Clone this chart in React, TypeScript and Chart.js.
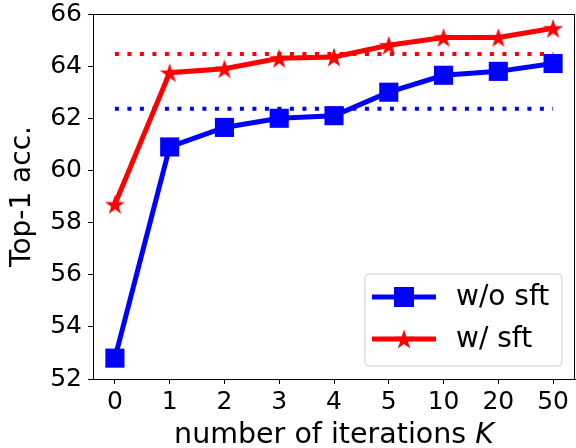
import React, { useEffect, useRef } from 'react';
import { Chart, registerables } from 'chart.js';

Chart.register(...registerables);

const categories = ['0', '1', '2', '3', '4', '5', '10', '20', '50'];
const woSft = [52.8, 60.9, 61.65, 62.0, 62.1, 63.0, 63.65, 63.8, 64.1];
const wSft = [58.7, 63.75, 63.9, 64.3, 64.35, 64.8, 65.1, 65.1, 65.45];
const woSftBaseline = 62.37;
const wSftBaseline = 64.47;
const yMin = 52;
const yMax = 66;
const yStep = 2;

const FONT = "'DejaVu Sans', sans-serif";
const FS = 25;
const LFS = 28;

function makeStar(size: number, color: string): HTMLCanvasElement {
  const c = document.createElement('canvas');
  c.width = size;
  c.height = size;
  const ctx = c.getContext('2d')!;
  const cx = size / 2;
  const cy = size / 2 + 1;
  const R = size / 2 - 0.5;
  const r = R * 0.382;
  ctx.beginPath();
  for (let i = 0; i < 10; i++) {
    const ang = -Math.PI / 2 + (i * Math.PI) / 5;
    const rad = i % 2 === 0 ? R : r;
    const x = cx + rad * Math.cos(ang);
    const y = cy + rad * Math.sin(ang);
    if (i === 0) ctx.moveTo(x, y);
    else ctx.lineTo(x, y);
  }
  ctx.closePath();
  ctx.fillStyle = color;
  ctx.fill();
  return c;
}

export default function App() {
  const ref = useRef<HTMLCanvasElement | null>(null);

  useEffect(() => {
    const canvas = ref.current;
    if (!canvas) return;
    const star = makeStar(22, '#ff0000');

    const decor = {
      id: 'decor',
      afterDraw(chart: any) {
        const { ctx, chartArea } = chart;
        const { left, right, top, bottom } = chartArea;
        ctx.save();
        // frame
        ctx.strokeStyle = '#000';
        ctx.lineWidth = 1;
        ctx.strokeRect(left + 0.5, top + 0.5, right - left - 1, bottom - top);

        // legend
        const bx = right - 210;
        const by = bottom - 105;
        const bw = 197;
        const bh = 92;
        const rr = 4;
        ctx.beginPath();
        ctx.moveTo(bx + rr, by);
        ctx.arcTo(bx + bw, by, bx + bw, by + bh, rr);
        ctx.arcTo(bx + bw, by + bh, bx, by + bh, rr);
        ctx.arcTo(bx, by + bh, bx, by, rr);
        ctx.arcTo(bx, by, bx + bw, by, rr);
        ctx.closePath();
        ctx.fillStyle = 'rgba(255,255,255,0.8)';
        ctx.fill();
        ctx.strokeStyle = '#cccccc';
        ctx.lineWidth = 1;
        ctx.stroke();

        const entries = [
          { label: 'w/o sft', color: '#0000ff', marker: 'sq' },
          { label: 'w/ sft', color: '#ff0000', marker: 'star' },
        ];
        entries.forEach((e, i) => {
          const y = by + 23 + i * 42;
          ctx.strokeStyle = e.color;
          ctx.lineWidth = 5;
          ctx.beginPath();
          ctx.moveTo(bx + 7, y);
          ctx.lineTo(bx + 71, y);
          ctx.stroke();
          const mx = bx + 39;
          if (e.marker === 'sq') {
            ctx.fillStyle = e.color;
            ctx.fillRect(mx - 10, y - 10, 20, 20);
          } else {
            ctx.drawImage(star, mx - 11, y - 11, 22, 22);
          }
          ctx.fillStyle = '#000';
          ctx.font = `${LFS}px ${FONT}`;
          ctx.textAlign = 'left';
          ctx.textBaseline = 'middle';
          ctx.fillText(e.label, bx + 91, y + 1);
        });

        // x title with italic K
        ctx.fillStyle = '#000';
        ctx.textBaseline = 'alphabetic';
        const part1 = 'number of iterations ';
        const part2 = 'K';
        const xfs = 28.5;
        ctx.font = `${xfs}px ${FONT}`;
        const w1 = ctx.measureText(part1).width;
        ctx.font = `italic ${xfs}px ${FONT}`;
        const w2 = ctx.measureText(part2).width;
        const cx = (left + right) / 2;
        const sx = cx - (w1 + w2) / 2;
        const ty = 443;
        ctx.font = `${xfs}px ${FONT}`;
        ctx.textAlign = 'left';
        ctx.fillText(part1, sx, ty);
        ctx.font = `italic ${xfs}px ${FONT}`;
        ctx.fillText(part2, sx + w1, ty);

        // y title
        ctx.save();
        ctx.translate(23, (top + bottom) / 2);
        ctx.rotate(-Math.PI / 2);
        ctx.font = `${LFS}px ${FONT}`;
        ctx.textAlign = 'center';
        ctx.textBaseline = 'middle';
        ctx.fillText('Top-1 acc.', 0, 0);
        ctx.restore();

        ctx.restore();
      },
    };

    const chart = new Chart(canvas, {
      type: 'line',
      data: {
        datasets: [
          {
            label: 'w/o sft',
            data: woSft.map((v, i) => ({ x: i, y: v })),
            borderColor: '#0000ff',
            backgroundColor: '#0000ff',
            borderWidth: 5,
            pointStyle: 'rect',
            pointRadius: 13.5,
            pointBorderWidth: 0,
            pointHoverRadius: 13.5,
            order: 2,
          },
          {
            label: 'w/ sft',
            data: wSft.map((v, i) => ({ x: i, y: v })),
            borderColor: '#ff0000',
            backgroundColor: '#ff0000',
            borderWidth: 5,
            pointStyle: star as any,
            pointRadius: 11,
            pointBorderWidth: 0,
            order: 1,
          },
          {
            label: 'w/o sft baseline',
            data: [
              { x: 0, y: woSftBaseline },
              { x: categories.length - 1, y: woSftBaseline },
            ],
            borderColor: '#0000ff',
            borderWidth: 4,
            borderDash: [4, 8.5],
            borderCapStyle: 'butt',
            pointRadius: 0,
            order: 3,
          },
          {
            label: 'w/ sft baseline',
            data: [
              { x: 0, y: wSftBaseline },
              { x: categories.length - 1, y: wSftBaseline },
            ],
            borderColor: '#ff0000',
            borderWidth: 4,
            borderDash: [4, 8.5],
            borderCapStyle: 'butt',
            pointRadius: 0,
            order: 3,
          },
        ],
      },
      options: {
        animation: false,
        responsive: false,
        devicePixelRatio: 1,
        events: [],
        layout: { autoPadding: false, padding: { top: 14, right: 1, left: 0, bottom: 0 } },
        plugins: {
          legend: { display: false },
          tooltip: { enabled: false },
        },
        scales: {
          x: {
            type: 'linear',
            min: -0.4,
            max: categories.length - 1 + 0.4,
            afterBuildTicks: (scale: any) => {
              scale.ticks = categories.map((_, i) => ({ value: i }));
            },
            afterFit: (scale: any) => {
              scale.height = 69;
              scale.paddingLeft = 0;
              scale.paddingRight = 0;
              scale.paddingTop = 0;
              scale.paddingBottom = 0;
            },
            ticks: {
              callback: (v: any) => categories[Math.round(Number(v))] ?? '',
              font: { family: FONT, size: FS },
              color: '#000',
              padding: 3,
              maxRotation: 0,
              autoSkip: false,
            },
            grid: {
              drawOnChartArea: false,
              drawTicks: true,
              tickLength: 5,
              tickColor: '#000',
              tickWidth: 1,
            },
            border: { display: true, color: '#000', width: 1 },
          },
          y: {
            type: 'linear',
            min: yMin,
            max: yMax,
            afterFit: (scale: any) => {
              scale.width = 93;
              scale.paddingLeft = 0;
              scale.paddingRight = 0;
              scale.paddingTop = 0;
              scale.paddingBottom = 0;
            },
            ticks: {
              stepSize: yStep,
              font: { family: FONT, size: FS },
              color: '#000',
              padding: 6,
            },
            grid: {
              drawOnChartArea: false,
              drawTicks: true,
              tickLength: 5,
              tickColor: '#000',
              tickWidth: 1,
            },
            border: { display: true, color: '#000', width: 1 },
          },
        },
      },
      plugins: [decor],
    } as any);

    return () => chart.destroy();
  }, []);

  return (
    <canvas
      ref={ref}
      width={576}
      height={448}
      style={{ position: 'absolute', left: 0, top: 0, display: 'block' }}
    />
  );
}
